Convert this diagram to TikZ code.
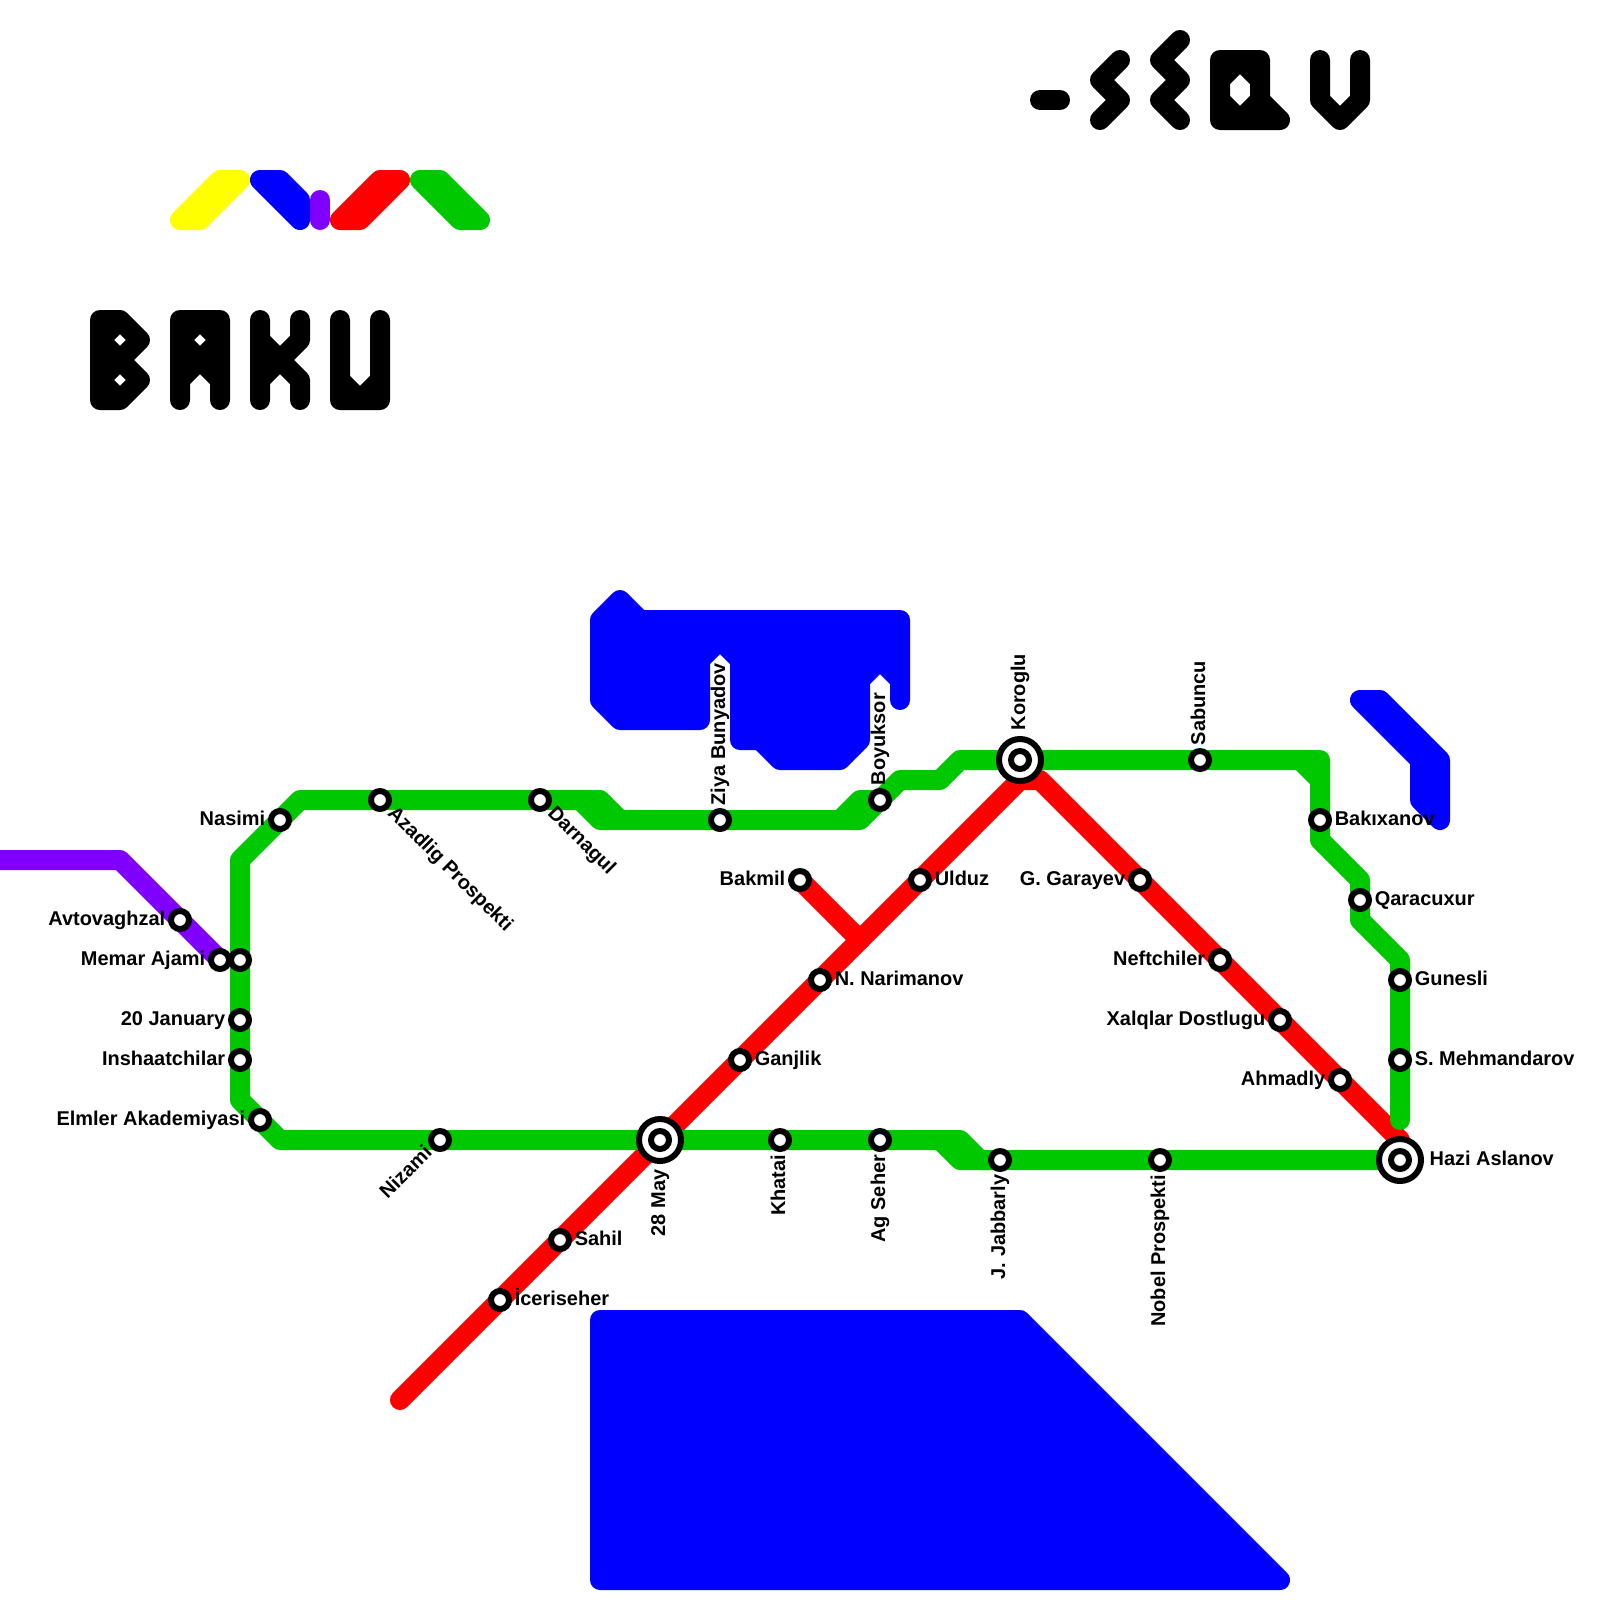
\documentclass[tikz,border=0pt]{standalone}
\usepackage{fontspec}
\setmainfont{Liberation Sans}
\usetikzlibrary{backgrounds}
\definecolor{linered}{RGB}{255,0,0}
\definecolor{linegreen}{RGB}{0,200,0}
\definecolor{lineblue}{RGB}{0,0,255}
\definecolor{linepurple}{RGB}{128,0,255}
\definecolor{lineyellow}{RGB}{255,255,0}
\tikzset{
  track/.style={line width=.5cm,line cap=round,line join=round},
  water/.style={track,draw=lineblue,fill=lineblue},
  glyph/.style={track,draw=black},
  stop/.style={circle,draw=black,fill=white,line width=.15cm,minimum size=.45cm,inner sep=0pt,outer sep=0pt},
  hub/.style={circle,draw=black,fill=white,line width=.15cm,minimum size=1.05cm,inner sep=0pt,outer sep=0pt},
  tag/.style={font=\bfseries\fontsize{14.2}{14.2}\selectfont,inner sep=0pt,outer sep=0pt,text=black},
  tage/.style={tag,anchor=base west,xshift=.37cm,yshift=-.125cm},
  tagw/.style={tag,anchor=base east,xshift=-.37cm,yshift=-.125cm},
  tagn/.style={tag,rotate=90,anchor=base west,xshift=.37cm,yshift=-.125cm},
  tags/.style={tag,rotate=90,anchor=base east,xshift=-.37cm,yshift=-.125cm},
  tagse/.style={tag,rotate=-45,anchor=base west,xshift=.37cm,yshift=-.125cm},
  tagsw/.style={tag,rotate=45,anchor=base east,xshift=-.37cm,yshift=-.125cm},
}
\begin{document}
\begin{tikzpicture}[x=.5cm,y=-.5cm]
\clip (0,0) rectangle (80,80);

% stations, west side
\node[stop] (avtovaghzal) at (9,46) {};
\node[stop] (memar) at (11,48) {};
\node[stop] (memarg) at (12,48) {};
\node[stop] (january) at (12,51) {};
\node[stop] (inshaat) at (12,53) {};
\node[stop] (elmler) at (13,56) {};
\node[stop] (nasimi) at (14,41) {};
\node[stop] (azadlig) at (19,40) {};
\node[stop] (darnagul) at (27,40) {};
\node[stop] (ziya) at (36,41) {};
\node[stop] (boyuksor) at (44,40) {};
\node[stop] (nizami) at (22,57) {};
\node[stop] (khatai) at (39,57) {};
\node[stop] (agseher) at (44,57) {};
\node[stop] (jabbarly) at (50,58) {};
\node[stop] (nobel) at (58,58) {};

% stations, east side
\node[stop] (sabuncu) at (60,38) {};
\node[stop] (bakixanov) at (66,41) {};
\node[stop] (qaracuxur) at (68,45) {};
\node[stop] (gunesli) at (70,49) {};
\node[stop] (mehmandarov) at (70,53) {};

% stations, red line
\node[stop] (iceriseher) at (25,65) {};
\node[stop] (sahil) at (28,62) {};
\node[stop] (ganjlik) at (37,53) {};
\node[stop] (narimanov) at (41,49) {};
\node[stop] (ulduz) at (46,44) {};
\node[stop] (bakmil) at (40,44) {};
\node[stop] (garayev) at (57,44) {};
\node[stop] (neftchiler) at (61,48) {};
\node[stop] (xalqlar) at (64,51) {};
\node[stop] (ahmadly) at (67,54) {};

% interchanges
\node[hub] (may) at (33,57) {};
\node[stop] (mayin) at (may) {};
\node[hub] (koroglu) at (51,38) {};
\node[stop] (korogluin) at (koroglu) {};
\node[hub] (hazi) at (70,58) {};
\node[stop] (haziin) at (hazi) {};

% bends
\coordinate (redend) at (20,70);
\coordinate (redtop) at (51,39);
\coordinate (redtopb) at (52,39);
\coordinate (redfoot) at (70,57);
\coordinate (redfork) at (43,47);

\begin{scope}[on background layer]
% water
\filldraw[water] (31,30) -- (30,31) -- (30,35) -- (31,36) -- (35,36) -- (35,33) -- (36,32) -- (37,33)
  -- (37,37) -- (38,37) -- (39,38) -- (42,38) -- (43,37) -- (43,34) -- (44,33) -- (45,34) -- (45,35)
  -- (45,31) -- (32,31) -- cycle;
\filldraw[water] (30,66) -- (51,66) -- (64,79) -- (30,79) -- cycle;
\filldraw[water] (68,35) -- (71,38) -- (71,40) -- (72,41) -- (72,38) -- (69,35) -- cycle;

% purple line
\draw[track,linepurple] (-1,43) -- (6,43) -- (avtovaghzal.center) -- (memar.center);

% red line
\draw[track,linered] (redend) -- (iceriseher.center) -- (sahil.center) -- (may.center) -- (ganjlik.center)
  -- (narimanov.center) -- (ulduz.center) -- (redtop) -- (redtopb) -- (garayev.center)
  -- (neftchiler.center) -- (xalqlar.center) -- (ahmadly.center) -- (redfoot);
\draw[track,linered] (bakmil.center) -- (redfork);

% green line
\draw[track,linegreen] (koroglu.center) -- (48,38) -- (47,39) -- (45,39) -- (boyuksor.center) -- (43,41)
  -- (ziya.center) -- (30,41) -- (29,40);
\draw[track,linegreen] (42,41) -- (43,40) -- (boyuksor.center);
\draw[track,linegreen] (31,41) -- (30,40) -- (darnagul.center) -- (azadlig.center) -- (15,40)
  -- (nasimi.center) -- (12,43) -- (memarg.center) -- (january.center) -- (inshaat.center) -- (12,55)
  -- (elmler.center) -- (14,57) -- (nizami.center) -- (may.center) -- (khatai.center) -- (agseher.center)
  -- (48,57) -- (49,58) -- (jabbarly.center) -- (nobel.center) -- (hazi.center);
\draw[track,linegreen] (47,57) -- (48,58) -- (jabbarly.center);
\draw[track,linegreen] (koroglu.center) -- (sabuncu.center) -- (66,38) -- (bakixanov.center) -- (66,42)
  -- (68,44) -- (qaracuxur.center) -- (68,46) -- (70,48) -- (gunesli.center) -- (mehmandarov.center) -- (70,56);
\draw[track,linegreen] (65,38) -- (66,39);
\end{scope}

% logo
\draw[track,lineyellow,fill=lineyellow] (9,11) -- (10,11) -- (12,9) -- (11,9) -- cycle;
\draw[track,lineblue,fill=lineblue] (13,9) -- (14,9) -- (15,10) -- (15,11) -- cycle;
\draw[track,linepurple] (16,10) -- (16,11);
\draw[track,linered,fill=linered] (17,11) -- (18,11) -- (20,9) -- (19,9) -- cycle;
\draw[track,linegreen,fill=linegreen] (21,9) -- (22,9) -- (24,11) -- (23,11) -- cycle;

% BAKU
\draw[glyph] (5,20) -- (5,16) -- (6,16) -- (7,17) -- (6,18) -- (5,17) -- (6,16) (6,18) -- (7,19) -- (6,20) -- (5,19) -- (6,18) (5,20) -- (6,20);
\draw[glyph] (9,20) -- (9,16) -- (11,16) -- (11,20) (10,16) -- (11,17) -- (10,18) -- (9,17) -- (10,16) (9,19) -- (10,18) -- (11,19);
\draw[glyph] (13,16) -- (13,20) (15,16) -- (15,17) -- (13,19) (13,17) -- (15,19) -- (15,20);
\draw[glyph] (17,16) -- (17,20) -- (19,20) -- (19,16) (17,19) -- (18,20) -- (19,19);

% second word
\draw[glyph] (52,5) -- (53,5);
\draw[glyph] (56,3) -- (55,4) -- (56,5) -- (55,6);
\draw[glyph] (59,2) -- (58,3) -- (59,4) -- (58,5) -- (59,6);
\draw[glyph] (61,3) -- (63,3) -- (63,5) -- (64,6) -- (61,6) -- cycle (62,3) -- (63,4) -- (63,5) -- (62,6) -- (61,5) -- (61,4) -- cycle;
\draw[glyph] (66,3) -- (66,5) -- (67,6) -- (68,5) -- (68,3);

% labels
\node[tagw] (tavtovaghzal) at (avtovaghzal) {Avtovaghzal};
\node[tagw] (tmemar) at (memar) {Memar Ajami};
\node[tagw] (tjanuary) at (january) {20 January};
\node[tagw] (tinshaat) at (inshaat) {Inshaatchilar};
\node[tagw] (telmler) at (elmler) {Elmler Akademiyasi};
\node[tagw] (tnasimi) at (nasimi) {Nasimi};
\node[tagse] (tazadlig) at (azadlig) {Azadlig Prospekti};
\node[tagse] (tdarnagul) at (darnagul) {Darnagul};
\node[tagn] (tziya) at (ziya) {Ziya Bunyadov};
\node[tagn] (tboyuksor) at (boyuksor) {Boyuksor};
\node[tagn,xshift=.37cm] (tkoroglu) at (koroglu) {Koroglu};
\node[tagn] (tsabuncu) at (sabuncu) {Sabuncu};
\node[tage] (tbakixanov) at (bakixanov) {Bakıxanov};
\node[tage] (tqaracuxur) at (qaracuxur) {Qaracuxur};
\node[tage] (tgunesli) at (gunesli) {Gunesli};
\node[tage] (tmehmandarov) at (mehmandarov) {S. Mehmandarov};
\node[tage,xshift=.37cm] (thazi) at (hazi) {Hazi Aslanov};
\node[tagw] (tahmadly) at (ahmadly) {Ahmadly};
\node[tagw] (txalqlar) at (xalqlar) {Xalqlar Dostlugu};
\node[tagw] (tneftchiler) at (neftchiler) {Neftchiler};
\node[tagw] (tgarayev) at (garayev) {G. Garayev};
\node[tage] (tulduz) at (ulduz) {Ulduz};
\node[tagw] (tbakmil) at (bakmil) {Bakmil};
\node[tage] (tnarimanov) at (narimanov) {N. Narimanov};
\node[tage] (tganjlik) at (ganjlik) {Ganjlik};
\node[tage] (tsahil) at (sahil) {Sahil};
\node[tage] (ticeriseher) at (iceriseher) {İceriseher};
\node[tagsw] (tnizami) at (nizami) {Nizami};
\node[tags,xshift=-.37cm] (tmay) at (may) {28 May};
\node[tags] (tkhatai) at (khatai) {Khatai};
\node[tags] (tagseher) at (agseher) {Ag Seher};
\node[tags] (tjabbarly) at (jabbarly) {J. Jabbarly};
\node[tags] (tnobel) at (nobel) {Nobel Prospekti};
\end{tikzpicture}
\end{document}
